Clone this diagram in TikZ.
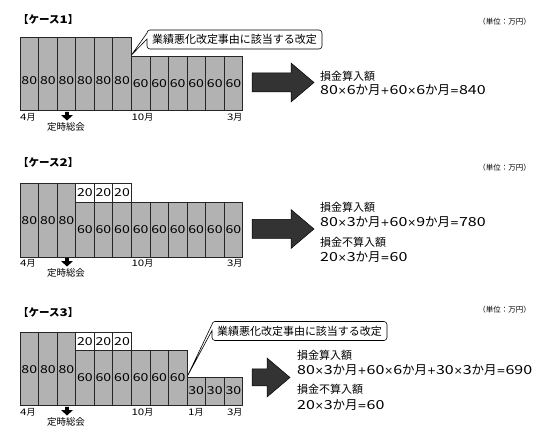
\documentclass[tikz,border=0pt]{standalone}
\usepackage{fontspec}
\setmainfont{Noto Sans CJK JP}
\newfontfamily\numf[FakeStretch=1.28]{Noto Sans CJK JP}
\newfontfamily\opf[Scale=0.85]{DejaVu Sans}
\newcommand\N[1]{{\numf #1}}
\newcommand\Op[1]{{\opf #1}}
% column: index, top, bottom, text y, value, style, name
\newcommand\colbar[7]{%
  \draw[#6] ({20+(#1-1)*18.55},#2) rectangle ({20+#1*18.55},#3);
  \node[num] (#7) at ({20+(#1-0.5)*18.55},#4) {#5};}
\newcommand\darr[3]{%
  \fill[black] ({#1-1.8},#2) -- ({#1+1.8},#2) -- ({#1+1.8},{#2+3.2}) -- ({#1+5.8},{#2+3.2})
   -- (#1,{#2+8.5}) -- ({#1-5.8},{#2+3.2}) -- ({#1-1.8},{#2+3.2}) -- cycle;
  \node[lbl] (#3) at ({#1-1},{#2+14.5}) {定時総会};}
\newcommand\bigarr[6]{%
  \draw[black, fill=black!80, line width=0.5pt] (#1,{#4-#5}) -- (#2,{#4-#5}) -- (#2,{#4-#6})
   -- (#3,#4) -- (#2,{#4+#6}) -- (#2,{#4+#5}) -- (#1,{#4+#5}) -- cycle;}
\newcommand\callout[7]{%
  \draw[line width=0.6pt, fill=white] (#1,{#2+3}) -- (#5,#6) -- (#1,{#2+9}) [rounded corners=3pt]
   -- (#1,#4) -- (#3,#4) -- (#3,#2) -- (#1,#2) -- (#1,{#2+3});
  \node[font=\fontsize{11}{11}\selectfont, inner sep=0pt] (#7) at ({(#1+#3)/2},{(#2+#4)/2}) {業績悪化改定事由に該当する改定};}
\begin{document}
\begin{tikzpicture}[x=1pt,y=-1pt,
  bar/.style={draw=black!85, line width=0.6pt, fill=black!30},
  wbar/.style={draw=black!85, line width=0.6pt, fill=white},
  num/.style={font=\fontsize{11}{11}\numf, inner sep=0pt},
  lbl/.style={font=\fontsize{9.5}{9.5}\selectfont, inner sep=0pt},
  mon/.style={font=\fontsize{9}{9}\selectfont, inner sep=0pt},
  ttl/.style={font=\fontsize{10.5}{10.5}\selectfont\bfseries, inner sep=0pt, anchor=west},
  unit/.style={font=\fontsize{7.5}{7.5}\selectfont, inner sep=0pt, anchor=east},
  txa/.style={font=\fontsize{11}{11}\selectfont, inner sep=0pt, anchor=west},
  txb/.style={font=\fontsize{12.5}{12.5}\selectfont, inner sep=0pt, anchor=west}]
\useasboundingbox (0,0) rectangle (550,435);

% ---------------- Case 1
\node[ttl] (t1) at (18,20) {【ケース\N{1}】};
\node[unit] (u1) at (531,22) {（単位：万円）};
\foreach \i in {1,...,6} {\colbar{\i}{37}{110}{81}{80}{bar}{a\i}}
\foreach \i in {7,...,12} {\colbar{\i}{56}{110}{83.5}{60}{bar}{a\i}}
\node[mon, anchor=west] (m1a) at (20,117) {\N{4}月};
\node[mon, anchor=west] (m1b) at (131.3,117) {\N{10}月};
\node[mon, anchor=east] (m1c) at (242.6,117) {\N{3}月};
\darr{67}{112}{g1}
\callout{147}{30}{322}{49}{131.5}{55}{c1}
\bigarr{252}{291}{314}{82.5}{9.5}{19.5}
\node[txa] (r1a) at (320,76) {損金算入額};
\node[txb] (r1b) at (320,90) {\N{80}\Op{×}\N{6}か月\Op{+}\N{60}\Op{×}\N{6}か月\Op{=}\N{840}};

% ---------------- Case 2
\node[ttl] (t2) at (18,163) {【ケース\N{2}】};
\node[unit] (u2) at (531,168) {（単位：万円）};
\foreach \i in {1,...,3} {\colbar{\i}{183}{257}{220.5}{80}{bar}{b\i}}
\foreach \i in {4,...,6} {\colbar{\i}{183}{202}{193}{20}{wbar}{w\i}}
\foreach \i in {4,...,12} {\colbar{\i}{202}{257}{230}{60}{bar}{b\i}}
\node[mon, anchor=west] (m2a) at (20,263) {\N{4}月};
\node[mon, anchor=west] (m2b) at (131.3,263) {\N{10}月};
\node[mon, anchor=east] (m2c) at (242.6,263) {\N{3}月};
\darr{67}{258}{g2}
\bigarr{252}{291}{314}{229}{9.5}{19.5}
\node[txa] (r2a) at (320,207) {損金算入額};
\node[txb] (r2b) at (320,222) {\N{80}\Op{×}\N{3}か月\Op{+}\N{60}\Op{×}\N{9}か月\Op{=}\N{780}};
\node[txa] (r2c) at (320,242) {損金不算入額};
\node[txb] (r2d) at (320,257) {\N{20}\Op{×}\N{3}か月\Op{=}\N{60}};

% ---------------- Case 3
\node[ttl] (t3) at (18,313) {【ケース\N{3}】};
\node[unit] (u3) at (531,310) {（単位：万円）};
\foreach \i in {1,...,3} {\colbar{\i}{332}{405}{369.5}{80}{bar}{d\i}}
\foreach \i in {4,...,6} {\colbar{\i}{332}{350}{342}{20}{wbar}{v\i}}
\foreach \i in {4,...,9} {\colbar{\i}{350}{405}{378}{60}{bar}{d\i}}
\foreach \i in {10,...,12} {\colbar{\i}{377}{405}{391}{30}{bar}{d\i}}
\node[mon, anchor=west] (m3a) at (20,412) {\N{4}月};
\node[mon, anchor=west] (m3b) at (131.3,412) {\N{10}月};
\node[mon, anchor=west] (m3d) at (188,412) {\N{1}月};
\node[mon, anchor=east] (m3c) at (242.6,412) {\N{3}月};
\darr{67}{407}{g3}
\callout{212}{321.5}{387}{340.5}{187.5}{376}{c3}
\bigarr{252}{267}{290}{377.5}{8.5}{19.5}
\node[txa] (r3a) at (297,355) {損金算入額};
\node[txb] (r3b) at (297,370) {\N{80}\Op{×}\N{3}か月\Op{+}\N{60}\Op{×}\N{6}か月\Op{+}\N{30}\Op{×}\N{3}か月\Op{=}\N{690}};
\node[txa] (r3c) at (297,389) {損金不算入額};
\node[txb] (r3d) at (297,405) {\N{20}\Op{×}\N{3}か月\Op{=}\N{60}};
\end{tikzpicture}
\end{document}
